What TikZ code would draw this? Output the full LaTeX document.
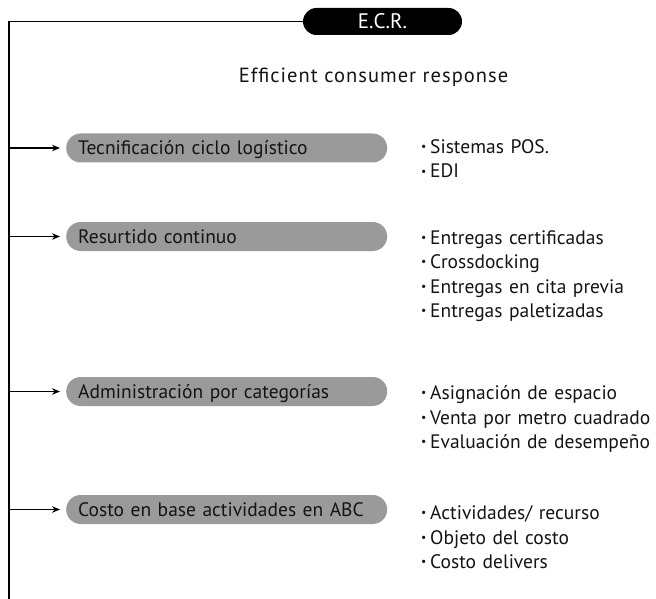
\documentclass[tikz,border=0pt]{standalone}
\usepackage{fontspec}
\setmainfont{PT Sans}
\newfontfamily\spacedfont[LetterSpace=5]{PT Sans}
\usepackage{tikz}
\usetikzlibrary{arrows.meta,positioning,calc}
\definecolor{cPill}{HTML}{9A9A9A}
\definecolor{cInk}{HTML}{141414}
\newcommand{\dotitem}{\makebox[9pt][l]{\raisebox{0.3ex}{\scalebox{0.6}{\textbullet}}}}
\tikzset{
  spine/.style={line width=1.2pt,draw=black},
  arr/.style={-{Stealth[length=8pt,width=6.5pt]},line width=1.2pt,shorten >=6pt},
  pill/.style={fill=cPill,rounded corners=14.5pt,anchor=west,text=cInk,inner xsep=12pt,inner ysep=0pt,
    text width=297pt,align=left,minimum height=29pt,text height=13pt,text depth=0pt,font=\fontsize{19.5}{23}\selectfont},
  head/.style={fill=black,rounded corners=13.5pt,text=white,minimum width=159pt,minimum height=27pt,inner sep=0pt,
    font=\fontsize{21}{23}\selectfont},
  items/.style={anchor=base west,inner sep=0pt,text width=232pt,align=left,text=cInk,
    font={\fontsize{19.5}{24.5}\selectfont\hyphenpenalty=10000\relax}},
}
\begin{document}
\begin{tikzpicture}[x=1pt,y=-1pt]
  \useasboundingbox (0,0) rectangle (656,599);
  % title
  \node[head] (ecr) at (382.5,21.5) {E.C.R.};
  \node[anchor=base,text=cInk,inner sep=0pt,font=\spacedfont\fontsize{20.5}{23}\selectfont] (sub) at (373.5,83) {Efficient consumer response};
  % spine
  \coordinate (bot) at (9,599);
  \draw[spine] (ecr.west) -| (bot);
  % branches
  \node[pill] (t1) at (66,148) {Tecnificación ciclo logístico};
  \node[pill] (t2) at (66,236.5) {Resurtido continuo};
  \node[pill] (t3) at (66,391.5) {Administración por categorías};
  \node[pill] (t4) at (66,509.5) {Costo en base actividades en ABC};
  \foreach \t in {t1,t2,t3,t4}
    \draw[arr] (bot |- \t.west) -- (\t.west);
  % item lists
  \node[items] (l1) at (421,153.5) {\dotitem Sistemas POS.\\ \dotitem EDI};
  \node[items] (l2) at (421,244) {\dotitem Entregas certificadas\\ \dotitem Crossdocking\\ \dotitem Entregas en cita previa\\ \dotitem Entregas paletizadas};
  \node[items] (l3) at (421,399.5) {\dotitem Asignación de espacio\\ \dotitem Venta por metro cuadrado\\ \dotitem Evaluación de desempeño};
  \node[items] (l4) at (421,519.5) {\dotitem Actividades/ recurso\\ \dotitem Objeto del costo\\ \dotitem Costo delivers};
\end{tikzpicture}
\end{document}
